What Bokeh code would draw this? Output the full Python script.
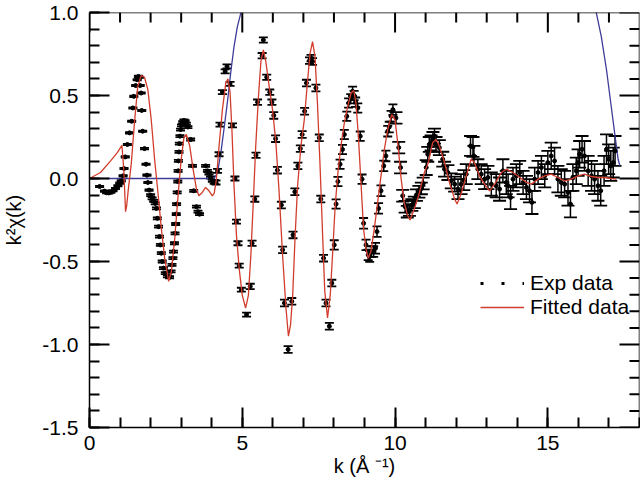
from bokeh.plotting import figure
from bokeh.models import (ColumnDataSource, Whisker, TeeHead, Legend, LegendItem, Span,
                          SingleIntervalTicker, PrintfTickFormatter, Range1d)
from bokeh.embed import file_html
from bokeh.resources import INLINE

# ---------------- data ----------------
exp_k = [0.33, 0.49, 0.56, 0.63, 0.70, 0.77, 0.85, 0.93, 0.99, 1.04, 1.10, 1.13, 1.17, 1.24,
         1.31, 1.38, 1.42, 1.45, 1.51, 1.56, 1.60, 1.64, 1.66, 1.69, 1.71, 1.74, 1.80, 1.85,
         1.88, 1.91, 1.95,
         2.00, 2.05, 2.10, 2.15, 2.19, 2.22, 2.26, 2.29, 2.32, 2.35, 2.38, 2.42, 2.48, 2.55,
         2.62, 2.67, 2.70, 2.73, 2.75, 2.78, 2.80, 2.82, 2.84, 2.85, 2.87, 2.89, 2.90, 2.91,
         2.93, 2.94, 2.96, 2.98, 3.01, 3.05, 3.09, 3.13, 3.17, 3.22, 3.31, 3.37, 3.41, 3.50,
         3.55, 3.60, 3.80, 3.86, 3.91, 3.96, 4.02,
         4.08, 4.14, 4.19, 4.24, 4.27, 4.35, 4.44, 4.50, 4.60, 4.68, 4.76, 4.81, 4.86, 4.90,
         4.97, 5.14, 5.26, 5.32, 5.41, 5.45, 5.50, 5.65, 5.69, 5.80, 5.90, 5.97,
         6.03, 6.09, 6.15, 6.28, 6.32, 6.38, 6.50, 6.62, 6.66, 6.72, 6.82, 6.90, 6.96, 7.04,
         7.10, 7.20, 7.25, 7.30, 7.41, 7.52, 7.57, 7.66, 7.74, 7.85, 7.93,
         8.01, 8.07, 8.13, 8.20, 8.28, 8.34, 8.42, 8.48, 8.55, 8.61, 8.66, 8.71, 8.78, 8.86,
         8.92, 8.97, 9.05, 9.12, 9.17, 9.23, 9.30, 9.36, 9.41, 9.46, 9.54, 9.63, 9.70, 9.76,
         9.81, 9.87, 9.93,
         10.03, 10.12, 10.18, 10.25, 10.33, 10.40, 10.47, 10.55, 10.63, 10.70, 10.78, 10.86,
         10.92, 11.02, 11.07, 11.12, 11.18, 11.24, 11.29, 11.34, 11.45, 11.56, 11.62, 11.73,
         11.84, 11.95,
         12.06, 12.16, 12.25, 12.33, 12.47, 12.55, 12.58, 12.71, 12.82, 12.93, 13.04, 13.15,
         13.31, 13.42, 13.53, 13.64, 13.70, 13.78, 13.86, 13.97, 14.08, 14.19, 14.30, 14.40,
         14.48, 14.57, 14.68, 14.79, 14.90, 15.00, 15.11, 15.22, 15.33, 15.44, 15.55, 15.66,
         15.74, 15.82, 15.93, 15.99, 16.04, 16.12, 16.20, 16.32, 16.43, 16.53, 16.64, 16.73,
         16.84, 16.92, 16.99, 17.06, 17.14, 17.20]

exp_chi = [-0.048, -0.076, -0.086, -0.087, -0.082, -0.074, -0.060, -0.044, -0.028, -0.014,
           0.016, 0.060, 0.130, 0.205, 0.275, 0.345, 0.425, 0.495, 0.560, 0.595, 0.615, 0.610,
           0.560, 0.515, 0.410, 0.285, 0.180, 0.086, 0.020, -0.024, -0.070,
           -0.100, -0.120, -0.135, -0.150, -0.180, -0.240, -0.290, -0.350, -0.400, -0.450,
           -0.500, -0.540, -0.570, -0.590, -0.595, -0.560, -0.520, -0.480, -0.440, -0.390,
           -0.330, -0.274, -0.214, -0.154, -0.084, -0.018, 0.046, 0.106, 0.160, 0.210, 0.255,
           0.295, 0.320, 0.340, 0.350, 0.345, 0.330, 0.310, 0.235, 0.076, -0.074, -0.170,
           -0.200, -0.215, 0.076, 0.046, 0.030, 0.006, -0.014,
           -0.020, -0.024, 0.046, 0.146, 0.325, 0.520, 0.645, 0.675, 0.570, 0.320, 0.000,
           -0.260, -0.390, -0.525, -0.670, -0.820, -0.650, -0.390, -0.124, 0.140, 0.460,
           0.740, 0.834, 0.610, 0.520, 0.460,
           0.380, 0.240, 0.050, -0.160, -0.430, -0.750, -1.030, -0.740, -0.340, -0.080, 0.076,
           0.180, 0.265, 0.405, 0.575, 0.710, 0.725, 0.705, 0.545, 0.245, -0.124, -0.480,
           -0.750, -0.890, -0.630,
           -0.400, -0.154, -0.018, 0.086, 0.175, 0.265, 0.375, 0.455, 0.480, 0.525, 0.500,
           0.460, 0.425, 0.255, -0.004, -0.270, -0.400, -0.460, -0.470, -0.440, -0.440, -0.420,
           -0.320, -0.180, -0.074, 0.076, 0.136, 0.285, 0.310, 0.375, 0.415,
           0.365, 0.186, 0.066, -0.104, -0.170, -0.200, -0.190, -0.160, -0.144, -0.100, -0.080,
           -0.060, -0.030, 0.066, 0.146, 0.205, 0.215, 0.235, 0.255, 0.205, 0.186, 0.116, 0.056,
           0.036, -0.014, -0.034,
           -0.064, -0.034, -0.010, 0.026, 0.196, 0.190, 0.136, 0.056, 0.026, -0.004, 0.006,
           -0.034, -0.044, -0.064, 0.046, -0.024, -0.044, -0.114, -0.004, 0.016, 0.036, -0.024,
           -0.054, -0.074, -0.144, -0.004, 0.036, 0.066, 0.016, 0.096, 0.136, 0.106, -0.004,
           -0.024, -0.034, -0.084, -0.154, 0.006, 0.046, 0.096, 0.146, 0.176, 0.136, 0.046,
           0.016, -0.004, -0.044, -0.074, 0.046, 0.176, 0.116, 0.076, 0.096, 0.166]

exp_err = ([0.004] * 31 + [0.006] * 49 +
           [0.012] * 16 + [0.016] * 10 +
           [0.020] * 25 +
           [0.028] * 15 + [0.032] * 16 +
           [0.035] * 13 + [0.045] * 13 +
           [0.060] * 10 + [0.070] * 20 + [0.080] * 12 + [0.090] * 12)

fit_k = [0.00, 0.36, 0.69, 0.91, 1.06, 1.12, 1.18, 1.22, 1.26, 1.37, 1.48, 1.58, 1.69, 1.80,
         1.91, 2.02, 2.13, 2.24, 2.35, 2.46, 2.59, 2.68, 2.79, 2.90, 3.00, 3.09, 3.17, 3.28,
         3.39, 3.50, 3.58, 3.69, 3.80, 3.91, 4.02, 4.08, 4.15, 4.24, 4.35, 4.46, 4.53, 4.60,
         4.66, 4.73, 4.81, 4.90, 5.00, 5.11, 5.20, 5.28, 5.36, 5.44, 5.53, 5.61, 5.69, 5.77,
         5.88, 5.99, 6.10, 6.20, 6.32, 6.43, 6.51, 6.58, 6.65, 6.73, 6.81, 6.92, 7.03, 7.14,
         7.22, 7.30, 7.38, 7.46, 7.55, 7.63, 7.70, 7.79, 7.88, 7.96, 8.04, 8.14, 8.23, 8.34,
         8.45, 8.56, 8.65, 8.72, 8.80, 8.89, 8.97, 9.05, 9.12, 9.21, 9.32, 9.43, 9.54, 9.65,
         9.76, 9.89, 10.00, 10.11, 10.20, 10.30, 10.41, 10.49, 10.63, 10.80, 10.96, 11.09,
         11.23, 11.34, 11.45, 11.62, 11.78, 11.95, 12.03, 12.16, 12.33, 12.49, 12.60, 12.76,
         12.93, 13.09, 13.26, 13.48, 13.64, 13.86, 14.08, 14.30, 14.46, 14.68, 14.90, 15.11,
         15.33, 15.55, 15.77, 15.99, 16.20, 16.43, 16.64, 16.86, 17.08, 17.25]

fit_chi = [0.000, 0.036, 0.106, 0.156, 0.200, 0.060, -0.200, -0.160, -0.084, 0.096, 0.355,
           0.555, 0.620, 0.610, 0.535, 0.355, 0.116, -0.084, -0.300, -0.480, -0.620, -0.560,
           -0.360, -0.100, 0.116, 0.245, 0.265, 0.196, 0.056, -0.064, -0.104, -0.084, -0.054,
           -0.074, -0.104, -0.090, -0.010, 0.196, 0.415, 0.575, 0.600, 0.520, 0.300, -0.044,
           -0.344, -0.544, -0.704, -0.780, -0.704, -0.464, -0.144, 0.196, 0.495, 0.705, 0.775,
           0.705, 0.555, 0.415, 0.216, -0.064, -0.464, -0.780, -0.950, -0.880, -0.704, -0.344,
           -0.044, 0.196, 0.355, 0.595, 0.755, 0.825, 0.735, 0.455, 0.056, -0.344, -0.680,
           -0.840, -0.700, -0.440, -0.164, 0.056, 0.196, 0.335, 0.435, 0.515, 0.530, 0.455,
           0.255, -0.044, -0.304, -0.424, -0.480, -0.440, -0.304, -0.144, 0.016, 0.176, 0.295,
           0.385, 0.355, 0.176, -0.004, -0.144, -0.224, -0.250, -0.184, -0.084, 0.036, 0.096,
           0.216, 0.235, 0.196, 0.096, -0.024, -0.124, -0.154, -0.094, 0.016, 0.116, 0.096,
           0.016, -0.034, -0.074, -0.034, 0.036, 0.056, 0.036, 0.006, -0.024, -0.034, -0.004,
           0.016, 0.026, 0.006, -0.014, -0.004, 0.016, 0.026, 0.012, 0.006, 0.006, 0.000, -0.004]

win_k = [0.00, 4.08, 4.19, 4.30, 4.40, 4.51, 4.62, 4.73, 4.84, 4.95, 5.05, 5.20,
         16.40, 16.50, 16.59, 16.75, 16.92, 17.06, 17.20, 17.30, 17.36]
win_val = [0.000, 0.000, 0.036, 0.156, 0.295, 0.455, 0.635, 0.795, 0.915, 0.995, 1.060, 1.120,
           1.120, 1.050, 0.995, 0.855, 0.655, 0.455, 0.255, 0.116, 0.076]

x_range = (0, 18)
y_range = (-1.5, 1.0)
x_major_ticks = [0, 5, 10, 15]
x_minor_ticks = [1, 2, 3, 4, 6, 7, 8, 9, 11, 12, 13, 14, 16, 17]
y_major_ticks = [-1.5, -1.0, -0.5, 0.0, 0.5, 1.0]
y_minor_ticks = [-1.4, -1.3, -1.2, -1.1, -0.9, -0.8, -0.7, -0.6, -0.4, -0.3, -0.2, -0.1,
                 0.1, 0.2, 0.3, 0.4, 0.6, 0.7, 0.8, 0.9]
x_label = "k (Å ⁻¹)"
y_label = "k²χ(k)"
legend_labels = ["Exp data", "Fitted data"]

# ---------------- layout ----------------
W, H = 640, 484
B_LEFT, B_RIGHT, B_TOP, B_BOTTOM = 89, 1, 12, 57
FRAME_W = W - B_LEFT - B_RIGHT
FRAME_H = H - B_TOP - B_BOTTOM
MAJOR_LEN, MINOR_LEN = 20, 10          # tick lengths in pixels
TICK_W = 2
FONT = "Liberation Sans"
RED = "#d23c2c"
BLUE = "#3c3c98"

p = figure(width=W, height=H, output_backend="svg", toolbar_location=None,
           x_range=Range1d(*x_range), y_range=Range1d(*y_range),
           min_border_left=B_LEFT, min_border_right=B_RIGHT,
           min_border_top=B_TOP, min_border_bottom=B_BOTTOM)
p.outline_line_color = None
p.xgrid.visible = False
p.ygrid.visible = False

# left / bottom axes: labels plus inward ticks
for ax in (p.xaxis[0], p.yaxis[0]):
    ax.major_tick_in = MAJOR_LEN
    ax.major_tick_out = 0
    ax.minor_tick_in = MINOR_LEN
    ax.minor_tick_out = 0
    ax.major_tick_line_color = "black"
    ax.minor_tick_line_color = "black"
    ax.major_tick_line_width = TICK_W
    ax.minor_tick_line_width = TICK_W
    ax.axis_line_color = "black"
    ax.axis_line_width = 1.5
    ax.major_label_text_font = FONT
    ax.major_label_text_font_size = "21px"
    ax.major_label_text_color = "black"
    ax.axis_label_text_font = FONT
    ax.axis_label_text_font_size = "20px"
    ax.axis_label_text_font_style = "normal"
    ax.axis_label_text_color = "black"

xa = p.xaxis[0]
xa.ticker = SingleIntervalTicker(interval=5, num_minor_ticks=5)
xa.major_label_standoff = 8
xa.axis_label = x_label
xa.axis_label_standoff = 2

ya = p.yaxis[0]
ya.ticker = SingleIntervalTicker(interval=0.5, num_minor_ticks=5)
ya.formatter = PrintfTickFormatter(format="%.1f")
ya.major_label_standoff = 11
ya.axis_label = y_label
ya.axis_label_standoff = 14

# top / right frame lines
p.add_layout(Span(location=y_range[1], dimension="width", line_color="black", line_width=1.5))
p.add_layout(Span(location=x_range[1], dimension="height", line_color="black", line_width=1.5))

# right / top edges: inward ticks as head-less whiskers
x0, x1 = x_range
y0, y1 = y_range
dx_per_px = (x1 - x0) / FRAME_W
dy_per_px = (y1 - y0) / FRAME_H

def tick_whisker(base, lower, upper, dim):
    src = ColumnDataSource(dict(base=base, lower=lower, upper=upper))
    p.add_layout(Whisker(source=src, base="base", lower="lower", upper="upper",
                         dimension=dim, line_color="black", line_width=TICK_W,
                         upper_head=None, lower_head=None))

for ticks, n_px in ((y_major_ticks, MAJOR_LEN), (y_minor_ticks, MINOR_LEN)):
    n = len(ticks)
    tick_whisker(ticks, [x1 - n_px * dx_per_px] * n, [x1] * n, "width")
for ticks, n_px in ((x_major_ticks, MAJOR_LEN), (x_minor_ticks, MINOR_LEN)):
    n = len(ticks)
    tick_whisker(ticks, [y1 - n_px * dy_per_px] * n, [y1] * n, "height")

# window function (blue)
p.line(win_k, win_val, line_color=BLUE, line_width=1.3)

# error bars
lo_idx = [i for i, k in enumerate(exp_k) if k < 10]
hi_idx = [i for i, k in enumerate(exp_k) if k >= 10]
for idx, cap in ((lo_idx, 9), (hi_idx, 13)):
    src = ColumnDataSource(dict(
        k=[exp_k[i] for i in idx],
        upper=[exp_chi[i] + exp_err[i] for i in idx],
        lower=[exp_chi[i] - exp_err[i] for i in idx]))
    w = Whisker(source=src, base="k", upper="upper", lower="lower", dimension="height",
                line_color="black", line_width=1.5,
                upper_head=TeeHead(size=cap, line_color="black", line_width=1.8),
                lower_head=TeeHead(size=cap, line_color="black", line_width=1.8))
    p.add_layout(w)

exp_src = ColumnDataSource(dict(k=exp_k, chi=exp_chi))
pts = p.scatter("k", "chi", source=exp_src, size=4, marker="circle",
                fill_color="black", line_color="black")

fit = p.line(fit_k, fit_chi, line_color=RED, line_width=1.3)

# legend glyph for the experimental data: a dotted line (hidden in the plot itself)
dots = p.line("k", "chi", source=exp_src, line_color="black", line_width=3,
              line_dash="3 18", visible=False)

legend = Legend(items=[LegendItem(label=legend_labels[0], renderers=[dots]),
                       LegendItem(label=legend_labels[1], renderers=[fit])],
                location=(391, 108), padding=0, margin=0, spacing=0,
                glyph_width=44, glyph_height=20, label_standoff=6,
                label_text_font=FONT, label_text_font_size="21px",
                label_text_color="black", click_policy="none",
                border_line_color=None, background_fill_alpha=0)
p.add_layout(legend)

open("out.html", "w").write(file_html(p, INLINE))
